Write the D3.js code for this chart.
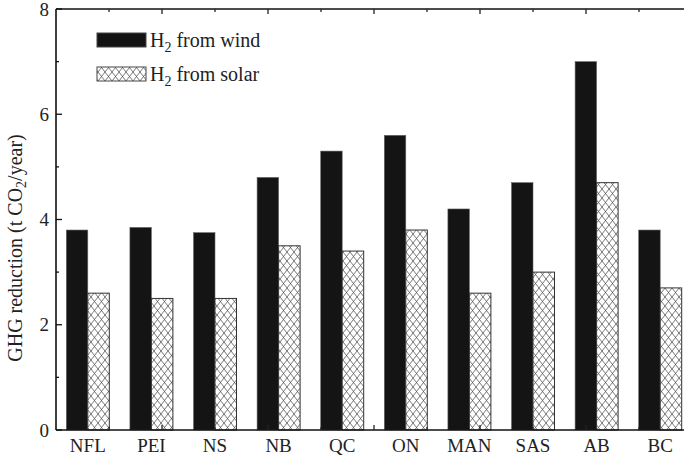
<!DOCTYPE html>
<html>
<head>
<meta charset="utf-8">
<script src="https://cdn.jsdelivr.net/npm/d3@7"></script>
<style>
  html, body { margin: 0; padding: 0; background: #fff; }
  svg { display: block; }
  text { font-family: "Liberation Serif", "Times New Roman", serif; fill: #222; }
</style>
</head>
<body>
<svg id="chart" width="684" height="457"></svg>
<script>
// Provinces and GHG reduction per year for hydrogen from wind and solar
const provinces = ["NFL", "PEI", "NS", "NB", "QC", "ON", "MAN", "SAS", "AB", "BC"];
const windValues = [3.8, 3.85, 3.75, 4.8, 5.3, 5.6, 4.2, 4.7, 7.0, 3.8];
const solarValues = [2.6, 2.5, 2.5, 3.5, 3.4, 3.8, 2.6, 3.0, 4.7, 2.7];
const seriesKeys = ["wind", "solar"];
const yTicks = [0, 2, 4, 6, 8];

const svg = d3.select("#chart");
const plotLeft = 56, plotRight = 692, plotTop = 9, plotBottom = 430;

const x = d3.scaleBand().domain(provinces).range([plotLeft, plotRight])
  .paddingInner(0.324).paddingOuter(0.162);
const xs = d3.scaleBand().domain(seriesKeys).range([0, x.bandwidth()]);
const y = d3.scaleLinear().domain([0, 8]).range([plotBottom, plotTop]);
// frame tick scale along top and bottom edges
const tx = d3.scaleLinear().domain([0, 12]).range([plotLeft, plotRight]);

// cross-hatch pattern
const defs = svg.append("defs");
const pat = defs.append("pattern").attr("id", "xhatch")
  .attr("patternUnits", "userSpaceOnUse").attr("width", 7).attr("height", 9);
pat.append("rect").attr("width", 7).attr("height", 9).attr("fill", "#fff");
pat.append("path").attr("d", "M0,0 L7,9 M7,0 L0,9 M-3.5,4.5 L3.5,13.5 M3.5,-4.5 L10.5,4.5 M3.5,13.5 L10.5,4.5 M-3.5,4.5 L3.5,-4.5")
  .attr("stroke", "#555").attr("stroke-width", 0.8).attr("fill", "none");

// bars
const rows = provinces.map((p, i) => ({ p, wind: windValues[i], solar: solarValues[i] }));
const g = svg.append("g");
rows.forEach(r => {
  g.append("rect")
    .attr("x", x(r.p) + xs("wind")).attr("width", xs.bandwidth())
    .attr("y", y(r.wind)).attr("height", y(0) - y(r.wind))
    .attr("fill", "#141414").attr("stroke", "#666").attr("stroke-width", 0.6);
  g.append("rect")
    .attr("x", x(r.p) + xs("solar")).attr("width", xs.bandwidth())
    .attr("y", y(r.solar)).attr("height", y(0) - y(r.solar))
    .attr("fill", "url(#xhatch)").attr("stroke", "#333").attr("stroke-width", 1);
});

// left axis with inward ticks
const ax = svg.append("g");
ax.append("line").attr("x1", plotLeft).attr("x2", plotLeft).attr("y1", plotTop).attr("y2", plotBottom)
  .attr("stroke", "#111").attr("stroke-width", 1.6);
d3.range(0, 9).forEach(v => {
  const len = v % 2 === 0 ? 6 : 3;
  ax.append("line").attr("x1", plotLeft).attr("x2", plotLeft + len)
    .attr("y1", y(v)).attr("y2", y(v)).attr("stroke", "#111").attr("stroke-width", 1.3);
});
ax.selectAll("text.ytick").data(yTicks).join("text").attr("class", "ytick")
  .attr("x", plotLeft - 7).attr("y", d => y(d)).attr("dy", "0.35em")
  .attr("text-anchor", "end").attr("font-size", 19).text(d => d);

// top and bottom frame lines
ax.append("line").attr("x1", plotLeft).attr("x2", plotRight).attr("y1", plotTop).attr("y2", plotTop)
  .attr("stroke", "#111").attr("stroke-width", 1.6);
ax.append("line").attr("x1", plotLeft).attr("x2", plotRight).attr("y1", plotBottom).attr("y2", plotBottom)
  .attr("stroke", "#111").attr("stroke-width", 1.6);
d3.range(1, 12).forEach(k => {
  const len = k % 2 === 0 ? 5 : 3;
  ax.append("line").attr("x1", tx(k)).attr("x2", tx(k)).attr("y1", plotTop).attr("y2", plotTop + len)
    .attr("stroke", "#222").attr("stroke-width", 1.3);
  ax.append("line").attr("x1", tx(k)).attr("x2", tx(k)).attr("y1", plotBottom).attr("y2", plotBottom - len)
    .attr("stroke", "#222").attr("stroke-width", 1.3);
});

// category labels
ax.selectAll("text.xcat").data(provinces).join("text").attr("class", "xcat")
  .attr("x", d => x(d) + x.bandwidth() / 2).attr("y", 452)
  .attr("text-anchor", "middle").attr("font-size", 19).text(d => d);

// y axis title
const yt = svg.append("text").attr("transform", "translate(22,248) rotate(-90)")
  .attr("text-anchor", "middle").attr("font-size", 20);
yt.append("tspan").text("GHG reduction (t CO");
yt.append("tspan").attr("font-size", 14).attr("dy", 4).text("2");
yt.append("tspan").attr("dy", -4).text("/year)");

// legend
const legend = [
  { key: "wind", label: " from wind", fill: "#141414", y: 33 },
  { key: "solar", label: " from solar", fill: "url(#xhatch)", y: 67 }
];
legend.forEach(l => {
  svg.append("rect").attr("x", 97).attr("y", l.y).attr("width", 49).attr("height", 14)
    .attr("fill", l.fill).attr("stroke", "#444").attr("stroke-width", 1);
  const t = svg.append("text").attr("x", 150).attr("y", l.y + 14).attr("font-size", 20);
  t.append("tspan").text("H");
  t.append("tspan").attr("font-size", 14).attr("dy", 5).text("2");
  t.append("tspan").attr("dy", -5).text(l.label);
});
</script>
</body>
</html>
